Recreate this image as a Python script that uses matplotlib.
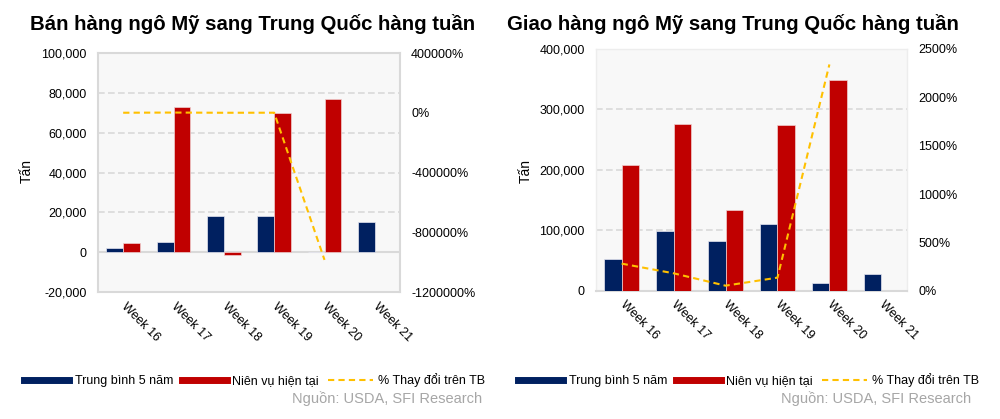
import numpy as np
import matplotlib.pyplot as plt
from matplotlib.lines import Line2D
from matplotlib.ticker import FuncFormatter

plt.rcParams['font.family'] = ['Liberation Sans', 'DejaVu Sans']

# Data
weeks = ['Week 16', 'Week 17', 'Week 18', 'Week 19', 'Week 20', 'Week 21']

# Left panel: weekly sales (tonnes)
sales_avg5 = [2200, 5000, 18100, 18100, 0, 15100]
sales_current = [4700, 72700, -1300, 70000, 76700, np.nan]
sales_pct = [114, 1354, -107, 287, -985000, np.nan]

# Right panel: weekly shipments (tonnes)
ship_avg5 = [53000, 98000, 83000, 110000, 12600, 27600]
ship_current = [207500, 276000, 133500, 273500, 348500, np.nan]
ship_pct = [280, 180, 52, 135, 2340, np.nan]

titles = ['Bán hàng ngô Mỹ sang Trung Quốc hàng tuần',
          'Giao hàng ngô Mỹ sang Trung Quốc hàng tuần']
legend_labels = ['Trung bình 5 năm', 'Niên vụ hiện tại', '% Thay đổi trên TB']
source = 'Nguồn: USDA, SFI Research'

navy = '#002060'
red = '#C00000'
yellow = '#FFC000'
grid_col = '#D9D9D9'

fig = plt.figure(figsize=(10, 4.19), dpi=100)


def draw_panel(rect, avg5, current, pct, ylim, yticks, pct_lim, pct_ticks, zero_line):
    ax = fig.add_axes(rect)
    ax.set_facecolor('#F8F8F8')
    x = np.arange(len(weeks))
    w = 1 / 3
    ax.bar(x - w / 2, avg5, w, color=navy, edgecolor='#E6E6F0', linewidth=0.5, zorder=3)
    ax.bar(x + w / 2, current, w, color=red, edgecolor='#F0D0D0', linewidth=0.5, zorder=3)
    ax.set_xlim(-0.5, len(weeks) - 0.5)
    ax.set_ylim(*ylim)
    ax.set_yticks(yticks)
    ax.yaxis.set_major_formatter(FuncFormatter(lambda v, p: f'{v:,.0f}'))
    for t in yticks[1:-1]:
        if t != 0:
            ax.axhline(t, color=grid_col, lw=1.2, ls=(0, (4, 2)), zorder=1)
    if zero_line:
        ax.axhline(0, color=grid_col, lw=1.5, zorder=2)
    ax.set_xticks(x)
    ax.set_xticklabels(weeks, rotation=-45, ha='left', va='center',
                       rotation_mode='anchor', fontsize=9)
    ax.tick_params(axis='both', length=0, labelsize=9)
    ax.tick_params(axis='x', pad=9)
    ax.tick_params(axis='y', pad=8)
    for s in ax.spines.values():
        s.set_color(grid_col)
        s.set_linewidth(1.5)

    ax2 = ax.twinx()
    ax2.plot(x, pct, color=yellow, lw=1.5, ls=(0, (3, 2)), zorder=5)
    ax2.set_ylim(*pct_lim)
    ax2.set_yticks(pct_ticks)
    ax2.yaxis.set_major_formatter(FuncFormatter(lambda v, p: f'{v:.0f}%'))
    ax2.tick_params(axis='y', length=0, labelsize=9, pad=8)
    for s in ax2.spines.values():
        s.set_visible(False)
    return ax, ax2


draw_panel([0.098, 0.3031, 0.302, 0.5704], sales_avg5, sales_current, sales_pct,
           (-20000, 100000), list(range(-20000, 100001, 20000)),
           (-1200000, 400000), list(range(-1200000, 400001, 400000)), True)

axr, _ = draw_panel([0.5957, 0.3062, 0.3116, 0.5769], ship_avg5, ship_current, ship_pct,
                    (0, 400000), list(range(0, 400001, 100000)),
                    (0, 2500), list(range(0, 2501, 500)), False)
for side in ['top', 'left', 'right']:
    axr.spines[side].set_color('#EDEDED')
    axr.spines[side].set_linewidth(1)

# Titles and axis labels
fig.text(0.030, 1 - 30 / 419, titles[0], fontsize=14.7, fontweight='bold', va='baseline')
fig.text(0.507, 1 - 30 / 419, titles[1], fontsize=14.7, fontweight='bold', va='baseline')
fig.text(0.027, 1 - 171 / 419, 'Tấn', rotation=90, fontsize=10, ha='center', va='center')
fig.text(0.526, 1 - 171 / 419, 'Tấn', rotation=90, fontsize=10, ha='center', va='center')

# Legends
handles = [Line2D([], [], color=navy, lw=5),
           Line2D([], [], color=red, lw=5),
           Line2D([], [], color=yellow, lw=1.5, ls=(0, (3, 2)))]
for x0 in [0.024, 0.518]:
    fig.legend(handles, legend_labels, loc='center left', bbox_to_anchor=(x0, 1 - 380 / 419),
               ncol=3, frameon=False, fontsize=9, borderpad=0, borderaxespad=0,
               handlelength=3.6, handletextpad=0.45, columnspacing=0.7)

# Source notes
fig.text(0.482, 1 - 399 / 419, source, fontsize=10.5, color='#A6A6A6', ha='right', va='center')
fig.text(0.971, 1 - 399 / 419, source, fontsize=10.5, color='#A6A6A6', ha='right', va='center')

fig.savefig('out.png', dpi=100)
